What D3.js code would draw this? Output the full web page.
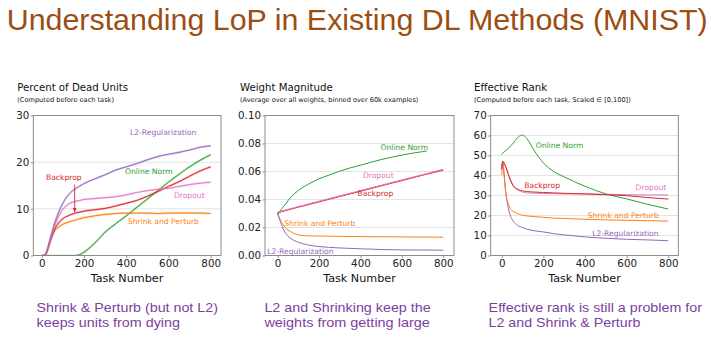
<!DOCTYPE html>
<html><head><meta charset="utf-8">
<script src="https://cdn.jsdelivr.net/npm/d3@7"></script>
<style>
html,body{margin:0;padding:0;background:#fff;}
svg{display:block;}
</style></head>
<body>
<svg id="chart" width="711" height="338"></svg>
<script>
// ---------- DATA ----------
const seriesNames = ["L2-Regularization","Dropout","Backprop","Shrink and Perturb","Online Norm"];
const seriesColors = {"L2-Regularization":"#9467bd","Dropout":"#e377c2","Backprop":"#d62728","Shrink and Perturb":"#ff7f0e","Online Norm":"#2ca02c"};

// Panel 1: Percent of Dead Units
const tasks1 = [0,10,20,40,60,80,100,130,160,180,200,250,300,350,400,450,500,550,600,650,700,750,800];
const dead_L2       = [0,0,0.4,3.6,6.8,9.3,11.2,13.2,14.3,14.9,15.4,16.4,17.3,18.3,19.0,19.7,20.5,21.2,21.7,22.1,22.6,23.2,23.5];
const dead_Dropout  = [0,0,0.4,3.2,6.2,8.4,9.9,11.1,11.6,11.8,12.0,12.2,12.4,12.6,13.0,13.5,13.9,14.2,14.4,14.8,15.2,15.5,15.7];
const dead_Backprop = [0,0,0.4,3.0,5.5,7.0,7.9,8.6,9.1,9.3,9.5,9.8,10.1,10.6,11.2,11.8,12.7,13.7,14.8,15.8,17.0,18.1,19.0];
const dead_Shrink   = [0,0,0.4,3.0,5.2,6.1,6.7,7.2,7.6,7.9,8.1,8.5,8.8,9.0,9.1,9.1,9.1,9.0,9.1,9.1,9.1,9.1,9.0];
const dead_Online   = [0,0,0,0,0,0,0,0,0,0.2,0.7,2.6,5.0,6.8,8.5,10.3,12.1,13.9,15.7,17.4,19.0,20.4,21.6];
const yTicks1 = [0,10,20,30];

// Panel 2: Weight Magnitude
const tasks2 = [0,20,40,60,80,100,120,150,200,250,300,400,500,600,700,720,800];
const wm_Online   = [0.029,0.0335,0.037,0.041,0.044,0.0465,0.0485,0.051,0.0548,0.0575,0.0603,0.0645,0.0685,0.0717,0.0742,0.0746,null];
const wm_Backprop = [0.0305,0.0313,0.0321,0.0329,0.0337,0.0345,0.0352,0.0364,0.0383,0.0402,0.0421,0.0459,0.0497,0.0535,0.0573,0.058,0.061];
const wm_Dropout  = [0.031,0.0318,0.0326,0.0334,0.0342,0.035,0.0357,0.0369,0.0388,0.0407,0.0426,0.0464,0.0502,0.054,0.0578,0.0585,0.0616];
const wm_Shrink   = [0.030,0.0235,0.0195,0.0172,0.0157,0.0147,0.0142,0.014,0.0139,0.0138,0.0137,0.0135,0.0134,0.0133,0.0132,0.0132,0.0131];
const wm_L2       = [0.030,0.0215,0.0155,0.0125,0.0107,0.0095,0.0085,0.0075,0.0064,0.0058,0.0054,0.0048,0.0043,0.004,0.0039,0.0039,0.0038];
const yTicks2 = [0,0.02,0.04,0.06,0.08,0.10];

// Panel 3: Effective Rank
const tasks3 = [0,5,10,20,30,40,50,60,80,100,120,160,200,250,300,400,500,600,700,800];
const er_Online   = [50.5,51.2,51.8,52.5,53.5,54.5,55.5,56.8,59.3,60.2,58.5,51.8,46.3,42.0,39.3,34.6,30.8,28.3,25.6,23.2];
const er_Backprop = [43,47,46.5,44,41,38,35.8,34.3,33.0,32.3,32.0,31.7,31.5,31.3,31.1,30.8,30.4,29.9,29.0,28.2];
const er_Dropout  = [43,47,46.5,44.5,41.5,38.5,36,34.3,32.5,31.7,31.3,31.2,31.0,30.9,30.8,30.8,30.6,30.4,30.3,30.3];
const er_Shrink   = [40.3,47,42,31,26.5,23.7,22.5,21.7,20.8,20.1,19.8,19.4,19.1,18.7,18.5,18.1,17.8,17.6,17.4,17.2];
const er_L2       = [44,47,42,31,24.5,20.3,18,16.5,14.8,14.0,13.2,12.3,11.8,10.9,10.3,9.3,8.6,8.1,7.8,7.4];
const yTicks3 = [0,10,20,30,40,50,60,70];

const xTicks = [0,200,400,600,800];

const titleText = "Understanding LoP in Existing DL Methods (MNIST)";
const panelTitles = ["Percent of Dead Units","Weight Magnitude","Effective Rank"];
const panelSubtitles = ["(Computed before each task)","(Average over all weights, binned over 60k examples)","(Computed before each task, Scaled \u2208 [0,100])"];
const xLabel = "Task Number";
const captions = [
  ["Shrink & Perturb (but not L2)","keeps units from dying"],
  ["L2 and Shrinking keep the","weights from getting large"],
  ["Effective rank is still a problem for","L2 and Shrink & Perturb"]
];

// ---------- LAYOUT ----------
const svg = d3.select("#chart");
const FONT = "'DejaVu Sans', sans-serif";

svg.append("text").attr("x",6.7).attr("y",30).attr("font-family","'Liberation Sans', Arial, sans-serif")
  .attr("font-size",30).attr("fill","#9c4d12").attr("textLength",701).attr("lengthAdjust","spacingAndGlyphs")
  .text(titleText);

const panels = [
  {x0:33.3, x1:221, xdom:[-40,849], ydom:[0,30], yTicks:yTicks1, fmt:d3.format("d"), tasks:tasks1, noisy:true,
   series:{"L2-Regularization":dead_L2,"Dropout":dead_Dropout,"Backprop":dead_Backprop,"Shrink and Perturb":dead_Shrink,"Online Norm":dead_Online},
   order:["Online Norm","Shrink and Perturb","Backprop","Dropout","L2-Regularization"],
   labels:[["L2-Regularization",418,25.75],["Backprop",20,16.1],["Online Norm",394,17.5],["Dropout",626,12.25],["Shrink and Perturb",408,6.8]],
   arrow:{x:156,y0:15.2,y1:9.3,color:"#d62728"},
   titleX:17.3, capX:36.5, capW:[181.4,143.5], xlabX:127},
  {x0:265, x1:454, xdom:[-61,852], ydom:[0,0.10], yTicks:yTicks2, fmt:d3.format(".2f"), tasks:tasks2,
   series:{"L2-Regularization":wm_L2,"Dropout":wm_Dropout,"Backprop":wm_Backprop,"Shrink and Perturb":wm_Shrink,"Online Norm":wm_Online},
   order:["Online Norm","Shrink and Perturb","L2-Regularization","Backprop","Dropout"],
   labels:[["Online Norm",497,0.0755],["Dropout",412,0.0551],["Backprop",386,0.0423],["Shrink and Perturb",32,0.0212],["L2-Regularization",-50,0.0012]],
   titleX:240, capX:264.4, capW:[166.3,165.4], xlabX:359.5},
  {x0:490.7, x1:678.3, xdom:[-53,848], ydom:[0,70], yTicks:yTicks3, fmt:d3.format("d"), tasks:tasks3,
   series:{"L2-Regularization":er_L2,"Dropout":er_Dropout,"Backprop":er_Backprop,"Shrink and Perturb":er_Shrink,"Online Norm":er_Online},
   order:["Online Norm","L2-Regularization","Shrink and Perturb","Dropout","Backprop"],
   labels:[["Online Norm",163,53.6],["Backprop",108.5,33.6],["Dropout",643,32.9],["Shrink and Perturb",413,18.9],["L2-Regularization",435,9.9]],
   titleX:474, capX:488.6, capW:[213.4,151.8], xlabX:584.5}
];
const yTop = 115.5, yBot = 255.5;

svg.append("defs").append("marker").attr("id","arrowR").attr("viewBox","0 0 10 10")
  .attr("refX",9).attr("refY",5).attr("markerWidth",5).attr("markerHeight",5).attr("orient","auto")
  .append("path").attr("d","M0,1 L10,5 L0,9 z").attr("fill","#d62728");

panels.forEach((p,i)=>{
  const x = d3.scaleLinear().domain(p.xdom).range([p.x0,p.x1]);
  const y = d3.scaleLinear().domain(p.ydom).range([yBot,yTop]);
  const g = svg.append("g");

  g.append("text").attr("x",p.titleX).attr("y",90.5).attr("font-family",FONT).attr("font-size",10.2).attr("fill","#111").text(panelTitles[i]);
  g.append("text").attr("x",p.titleX).attr("y",101.5).attr("font-family",FONT).attr("font-size",6.6).attr("fill","#111").text(panelSubtitles[i]);

  g.selectAll("line.grid").data(p.yTicks.slice(1,-1)).join("line")
    .attr("x1",p.x0).attr("x2",p.x1).attr("y1",d=>y(d)).attr("y2",d=>y(d))
    .attr("stroke","#dcdcdc").attr("stroke-width",0.8);

  const ya = d3.axisLeft(y).tickValues(p.yTicks).tickFormat(p.fmt).tickSize(2.5).tickPadding(1.5);
  const xa = d3.axisBottom(x).tickValues(xTicks).tickFormat(d3.format("d")).tickSize(2.5).tickPadding(1.5);
  const gy = g.append("g").attr("transform",`translate(${p.x0},0)`).call(ya);
  const gx = g.append("g").attr("transform",`translate(0,${yBot})`).call(xa);
  [gx,gy].forEach(a=>{
    a.select(".domain").remove();
    a.selectAll(".tick line").attr("stroke","#777").attr("stroke-width",0.8);
    a.selectAll(".tick text").attr("font-family",FONT).attr("font-size",10.3).attr("fill","#222");
  });

  const clipId = "clip"+i;
  svg.select("defs").append("clipPath").attr("id",clipId).append("rect")
    .attr("x",p.x0).attr("y",yTop).attr("width",p.x1-p.x0).attr("height",yBot-yTop);
  const lg = g.append("g").attr("clip-path",`url(#${clipId})`);
  p.order.forEach(name=>{
    const vals = p.series[name];
    const pts = p.tasks.map((t,k)=>[t,vals[k]]);
    const line = d3.line().defined(d=>d[1]!=null).x(d=>x(d[0])).y(d=>y(d[1])).curve(d3.curveMonotoneX);
    if (p.noisy) {
      lg.append("path").attr("d",line(pts)).attr("fill","none").attr("stroke",seriesColors[name])
        .attr("stroke-width",2.2).attr("stroke-opacity",0.3);
    }
    lg.append("path").attr("d",line(pts)).attr("fill","none").attr("stroke",seriesColors[name])
      .attr("stroke-width",1.0);
  });

  g.append("rect").attr("x",p.x0).attr("y",yTop).attr("width",p.x1-p.x0).attr("height",yBot-yTop)
    .attr("fill","none").attr("stroke","#808080").attr("stroke-width",0.9);

  p.labels.forEach(([name,tx,ty])=>{
    g.append("text").attr("x",x(tx)).attr("y",y(ty)).attr("font-family",FONT).attr("font-size",7.6)
      .attr("fill",seriesColors[name]).text(name);
  });
  if (p.arrow) {
    g.append("line").attr("x1",x(p.arrow.x)).attr("x2",x(p.arrow.x)).attr("y1",y(p.arrow.y0)).attr("y2",y(p.arrow.y1))
      .attr("stroke",p.arrow.color).attr("stroke-width",0.9).attr("marker-end","url(#arrowR)");
  }

  g.append("text").attr("x",p.xlabX).attr("y",282).attr("text-anchor","middle").attr("font-family",FONT)
    .attr("font-size",11.2).attr("fill","#111").text(xLabel);

  captions[i].forEach((c,k)=>{
    svg.append("text").attr("x",p.capX).attr("y",311.5+k*15).attr("font-family","'Liberation Sans', Arial, sans-serif")
      .attr("font-size",12.6).attr("fill","#7b3f9e").attr("textLength",p.capW[k]).attr("lengthAdjust","spacingAndGlyphs").text(c);
  });
});
</script>
</body></html>
